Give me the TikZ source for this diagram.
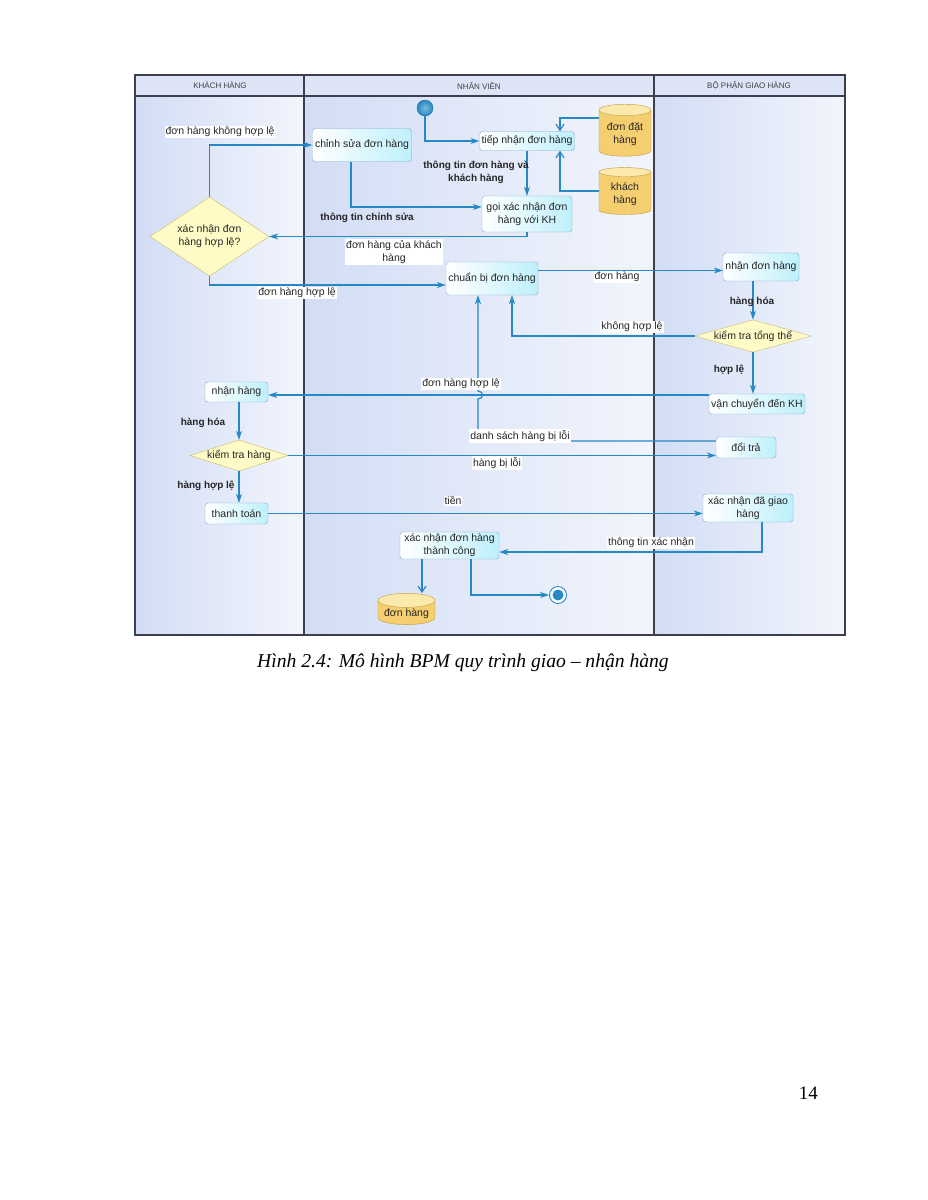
\documentclass[tikz,border=0pt]{standalone}
\usepackage{fontspec}
\setmainfont{Liberation Serif}
\newfontfamily\diafont{Liberation Sans}
\usetikzlibrary{shapes.geometric,arrows.meta,calc}
\definecolor{flowblue}{RGB}{38,136,196}
\definecolor{actline}{RGB}{128,168,204}
\definecolor{actfill}{RGB}{190,240,251}
\definecolor{dbfill}{RGB}{245,206,112}
\definecolor{dbtop}{RGB}{252,233,172}
\definecolor{dbline}{RGB}{190,156,66}
\definecolor{decfill}{RGB}{255,251,198}
\definecolor{decline}{RGB}{198,188,108}
\definecolor{lanebg}{RGB}{210,221,245}
\definecolor{lanelight}{RGB}{242,245,252}
\definecolor{headbg}{RGB}{220,228,245}
\definecolor{laneline}{RGB}{62,62,78}
\begin{document}
\begin{tikzpicture}[x=1pt,y=-1pt,
  every node/.style={font=\diafont\fontsize{10.5}{13}\selectfont, inner sep=2pt, text=black!85},
  act/.style={draw=actline, rounded corners=3pt, left color=white, right color=actfill, align=center},
  store/.style={cylinder, shape border rotate=90, aspect=0.3, draw=dbline, cylinder uses custom fill,
    cylinder body fill=dbfill, cylinder end fill=dbtop, align=center, inner sep=1pt},
  choice/.style={diamond, draw=decline, fill=decfill, inner sep=0pt, align=center},
  flow/.style={draw=flowblue, line width=1.2pt, -{Stealth[length=9pt,width=6pt]}},
  dflow/.style={draw=flowblue, line width=1.2pt, -{Straight Barb[length=6pt,width=8pt]}},
  lbl/.style={fill=white, inner sep=1pt},
  guard/.style={font=\diafont\bfseries\fontsize{10}{13}\selectfont, inner sep=1pt},
  lanehead/.style={font=\diafont\fontsize{8}{9}\selectfont, text=black!75}
]
\useasboundingbox (0,0) rectangle (927,1200);
\fill[white] (0,0) rectangle (927,1200);
% lanes
\shade[left color=lanebg, right color=lanelight] (135,96) rectangle (304,635);
\shade[left color=lanebg, right color=lanelight] (304,96) rectangle (654,635);
\shade[left color=lanebg, right color=lanelight] (654,96) rectangle (845,635);
\fill[headbg] (135,75) rectangle (845,96);
\draw[laneline, line width=1.5pt] (135,75) rectangle (845,635);
\draw[laneline, line width=1.1pt] (135,96) -- (845,96);
\draw[laneline, line width=1.1pt] (304,75) -- (304,635);
\draw[laneline, line width=1.1pt] (654,75) -- (654,635);
\node[lanehead] at (220,85.5) {KHÁCH HÀNG};
\node[lanehead] at (479,85.5) {NHÂN VIÊN};
\node[lanehead] at (749,85.5) {BỘ PHẬN GIAO HÀNG};
% nodes
\node[circle, draw=flowblue!80!black, inner color=flowblue!60, outer color=flowblue, minimum size=16] (start) at (425,108) {};
\node[act, minimum width=94, minimum height=19] (tiepnhan) at (527,141) {tiếp nhận đơn hàng};
\node[store, minimum width=52, minimum height=52] (dondat) at (625,134) {đơn đặt\\hàng};
\node[store, minimum width=52, minimum height=47] (khdb) at (625,194) {khách\\hàng};
\node[act, minimum width=99, minimum height=33] (chinhsua) at (362,145) {chỉnh sửa đơn hàng};
\node[act, minimum width=90, minimum height=36] (goixn) at (527,214) {gọi xác nhận đơn\\hàng với KH};
\node[choice, minimum width=119, minimum height=79, aspect=1.5] (hople) at (209.5,236.5) {xác nhận đơn\\hàng hợp lệ?};
\node[act, minimum width=92, minimum height=33] (chuanbi) at (492,278.5) {chuẩn bị đơn hàng};
\node[act, minimum width=76, minimum height=28] (nhandon) at (761,267) {nhận đơn hàng};
\node[choice, minimum width=116, minimum height=32, aspect=3.6] (tongthe) at (753,336) {kiểm tra tổng thể};
\node[act, minimum width=96, minimum height=20] (vanchuyen) at (757,404) {vận chuyển đến KH};
\node[act, minimum width=60, minimum height=21] (doitra) at (746,447.5) {đổi trả};
\node[act, minimum width=90, minimum height=28] (dagiao) at (748,508) {xác nhận đã giao\\hàng};
\node[act, minimum width=63, minimum height=20] (nhanhang) at (236.5,392) {nhận hàng};
\node[choice, minimum width=98, minimum height=31, aspect=3.2] (kthang) at (239,455.5) {kiểm tra hàng};
\node[act, minimum width=63, minimum height=21] (thanhtoan) at (236.5,513.5) {thanh toán};
\node[act, minimum width=99, minimum height=27] (thanhcong) at (449.5,545.5) {xác nhận đơn hàng\\thành công};
\node[store, minimum width=57, minimum height=31] (donhang) at (406.5,613.5) {đơn hàng};
\node[circle, draw=flowblue, fill=white, line width=0.9pt, minimum size=17] (stop) at (558,595) {};
\fill[flowblue] (stop.center) circle (5.5);
% connectors
\draw[flow] (start) |- (tiepnhan);
\draw[flow] (tiepnhan) -- (goixn);
\draw[dflow] ($(dondat.center)+(-26,-16)$) -| ($(tiepnhan.north)+(33,0)$);
\draw[dflow] ($(khdb.center)+(-26,-3)$) -| ($(tiepnhan.south)+(33,0)$);
\draw[flow] ($(chinhsua.south)+(-11,0)$) |- ($(goixn.west)+(0,-7)$);
\draw[flow] (goixn) |- (hople);
\draw[flow] (hople) |- (chinhsua);
\draw[flow] (hople) |- ($(chuanbi.west)+(0,6.5)$);
\draw[flow] ($(chuanbi.east)+(0,-8)$) -- ($(nhandon.west)+(0,3.5)$);
\draw[flow] (nhandon.south -| tongthe) -- (tongthe);
\draw[flow] (tongthe) -| ($(chuanbi.south)+(20,0)$);
\draw[flow] (tongthe) -- (tongthe.south |- vanchuyen.north);
\draw[flow] (vanchuyen.west |- 0,395) -- (nhanhang.east |- 0,395);
\draw[flow] (doitra.west |- 0,441) -- (478,441) -- (478,399) .. controls (484,399) and (484,391) .. (478,391) -- (chuanbi.south -| 478,0);
\draw[flow] (nhanhang.south -| kthang) -- (kthang);
\draw[flow] (kthang) -- (doitra.west |- kthang);
\draw[flow] (kthang) -- (thanhtoan.north -| kthang);
\draw[flow] (thanhtoan) -- (dagiao.west |- thanhtoan);
\draw[flow] ($(dagiao.south)+(14,0)$) |- ($(thanhcong.east)+(0,6.5)$);
\draw[dflow] (thanhcong.south -| 422,0) -- (donhang.north -| 422,0);
\draw[flow] ($(thanhcong.south)+(21.5,0)$) |- (stop);
% labels
\node[lbl] at (220,132) {đơn hàng không hợp lệ};
\node[guard, align=center] at (476,172) {thông tin đơn hàng và\\khách hàng};
\node[guard] at (367,218) {thông tin chỉnh sửa};
\node[lbl, align=center] at (394,252) {đơn hàng của khách\\hàng};
\node[lbl] at (297,293) {đơn hàng hợp lệ};
\node[lbl] at (617,277) {đơn hàng};
\node[guard] at (752,302) {hàng hóa};
\node[lbl] at (632,327) {không hợp lệ};
\node[guard] at (729,370) {hợp lệ};
\node[lbl] at (461,384) {đơn hàng hợp lệ};
\node[lbl] at (520,436) {danh sách hàng bị lỗi};
\node[lbl] at (497,463) {hàng bị lỗi};
\node[guard] at (203,423) {hàng hóa};
\node[guard] at (206,486) {hàng hợp lệ};
\node[lbl] at (453,501) {tiền};
\node[lbl] at (651,543) {thông tin xác nhận};
% caption and page number
\node[font=\rmfamily\itshape\fontsize{19.6}{22}\selectfont, text=black, anchor=base] at (463,667) {Hình 2.4: Mô hình BPM quy trình giao – nhận hàng};
\node[font=\rmfamily\fontsize{19}{22}\selectfont, text=black, anchor=base east, inner sep=0pt] at (818,1099) {14};
\end{tikzpicture}
\end{document}
